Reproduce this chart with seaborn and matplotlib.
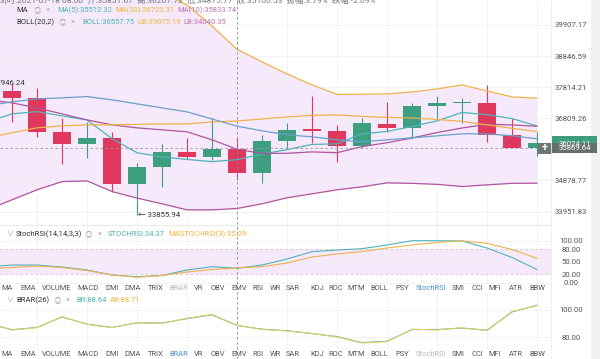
import numpy as np
import pandas as pd
import matplotlib
matplotlib.use("Agg")
import matplotlib.pyplot as plt
import seaborn as sns
from matplotlib.patches import Rectangle
from matplotlib.lines import Line2D
from matplotlib.ticker import NullLocator, NullFormatter

# ---------------- data ----------------
candle_open = [37691, 37475, 36388, 36011, 36181, 34766, 35283, 35742, 35608, 35844, 35100,
               36106, 36442, 36420, 35949, 36630, 36495, 37216, 37300, 37313, 36285, 35886]
candle_high = [37946.24, 37778, 36829, 36702, 36370, 35406, 35993, 36181, 36809, 36231, 36285,
               36671, 37530, 36599, 36809, 37346, 37294, 37530, 37455, 37885, 36809, 36388]
candle_low = [36702, 36231, 35375, 35577, 34545, 33855.94, 34694, 35528, 35507, 34894, 34796,
              35844, 36024, 35436, 35865, 36388, 36181, 36756, 36652, 36074, 35886, 35637]
candle_close = [37475, 36388, 36002, 36200, 34766, 35283, 35742, 35608, 35844, 35100, 36106,
                36442, 36420, 35949, 36652, 36495, 37216, 37313, 37306, 36285, 35886, 36024]

line_x = list(range(-1, 22))
ma5 = [36693, 36948, 37023, 36884, 36756, 36164, 35726, 35597, 35518, 35451, 35512.32, 35682,
       35822, 35984, 36003, 36314, 36392, 36546, 36725, 36995, 36922, 36800, 36562]
ma10 = [37401, 37304, 37142, 36948, 36756, 36599, 36504, 36442, 36379, 36128, 35833.74, 35704,
        35709, 35751, 35727, 35916, 36037, 36184, 36355, 36499, 36618, 36596, 36554]
ma30 = [36190, 36347, 36504, 36567, 36599, 36599, 36614, 36630, 36630, 36693, 36720.31, 36787,
        36851, 36900, 36916, 36868, 36835, 36819, 36771, 36709, 36599, 36489, 36388]
boll_mid = [37207, 37336, 37433, 37465, 37507, 37401, 37271, 37142, 37013, 36787, 36557.75, 36410,
            36285, 36222, 36128, 36065, 36128, 36190, 36253, 36316, 36316, 36253, 36159]
boll_ub = [42220, 42146, 42074, 41964, 41855, 41674, 41422, 41064, 40605, 39873, 39075.19, 38651,
           38253, 37888, 37578, 37585, 37594, 37659, 37756, 37888, 37691, 37497, 37455]
boll_lb = [34000, 34298, 34596, 34843, 34864, 34545, 34349, 34179, 34000, 34000, 34040.35, 34179,
           34358, 34477, 34596, 34685, 34805, 34790, 34760, 34694, 34745, 34790, 34796]

stoch_k = [37.4, 42.1, 42.1, 37.4, 30.2, 18.3, 14.3, 17.1, 30.2, 38.1, 34.37, 42.1,
           56.4, 73.8, 77.9, 81.0, 89.8, 100, 100, 99.5, 82.6, 60.0, 31.4]
stoch_d = [32.6, 36.2, 39.8, 36.2, 29.0, 18.3, 12.9, 17.1, 25.5, 31.4, 35.29, 38.1,
           46.9, 61.2, 68.3, 74.3, 82.6, 89.8, 95.7, 99.5, 93.8, 79.0, 58.1]

brar_ar = [90.5, 85.3, 87.0, 95.1, 89.5, 87.0, 90.7, 90.2, 93.9, 96.7, 88.71, 85.7,
           84.6, 82.8, 80.2, 75.8, 76.8, 85.9, 85.3, 87.0, 84.8, 98.9, 103.1]
brar_br = [90.3, 85.5, 87.2, 94.8, 89.6, 87.2, 90.5, 90.4, 93.6, 96.4, 88.64, 85.9,
           84.8, 82.6, 80.5, 76.1, 77.1, 85.6, 85.7, 86.7, 85.2, 98.5, 103.4]

price_ticks = [39907.17, 38846.59, 37814.21, 36809.26, 34878.77, 33951.83]
price_tick_labels = ["39907.17", "38846.59", "37814.21", "36809.26", "34878.77", "33951.83"]
stoch_ticks = [100, 80, 50, 20, 0]
stoch_tick_labels = ["100.00", "80.00", "50.00", "20.00", "0.00"]
brar_ticks = [100, 80]
brar_tick_labels = ["100.00", "80.00"]

crosshair_price = 35869.64
last_price_label = "36024.11"
high_label = "37946.24"
low_label = "← 33855.94"

tabs = ["MA", "EMA", "VOLUME", "MACD", "DMI", "DMA", "TRIX", "BRAR", "VR", "OBV", "EMV", "RSI",
        "WR", "SAR", "KDJ", "ROC", "MTM", "BOLL", "PSY", "StochRSI", "SMI", "CCI", "MFI", "ATR", "BBW"]

# ---------------- layout / style ----------------
tab_x = [7, 28, 57, 88, 112, 133, 156, 179, 199, 218, 239, 258, 275, 293, 317.5, 335.5,
         356, 379, 402, 431, 458, 477, 495, 516, 537]

RED = "#e0385c"
GREEN = "#3d9e80"
TEAL = "#4fb3b8"
BLUE = "#6a9fca"
YEL = "#eeb24c"
YEL2 = "#e6cf5c"
PUR = "#b0559e"
FILL = "#f6e9fb"
T_TEAL = "#4fb5b3"
T_YEL = "#f0b53c"
T_PUR = "#c175b5"

sns.set_theme(style="white")
plt.rcParams['font.family'] = ['Roboto', 'Noto Sans CJK SC', 'DejaVu Sans']

W, H = 600, 359
fig = plt.figure(figsize=(6, 3.59), dpi=100)
fig.patch.set_facecolor("white")


def fr(x0, y0, x1, y1):
    return [x0 / W, 1 - y1 / H, (x1 - x0) / W, (y1 - y0) / H]


def text_px(x, y, s, **kw):
    kw.setdefault("va", "center")
    kw.setdefault("fontsize", 5.5)
    fig.text(x / W, 1 - y / H, s, **kw)


def rect_px(x0, y0, x1, y1, **kw):
    fig.add_artist(Rectangle((x0 / W, 1 - y1 / H), (x1 - x0) / W, (y1 - y0) / H,
                             transform=fig.transFigure, **kw))


XL = (-0.48, 21.56)

ax = fig.add_axes(fr(0, 0, 551, 225))
ax_s = fig.add_axes(fr(0, 225, 551, 284))
ax_b = fig.add_axes(fr(0, 292, 551, 349))


def style_axes(a, ticks, labels):
    a.set_xlim(*XL)
    a.set_yticks(ticks)
    a.set_yticklabels(labels)
    a.yaxis.set_minor_locator(NullLocator())
    a.yaxis.set_minor_formatter(NullFormatter())
    a.yaxis.tick_right()
    a.tick_params(axis="y", length=0, pad=14.4, labelsize=5.6, labelcolor="#555555")
    for t in a.get_yticklabels():
        t.set_ha("center")
    a.set_xticks(list(range(1, 22, 2)))
    a.tick_params(axis="x", length=0, labelbottom=False)
    a.grid(True, color="#f1f1f1", lw=0.6)
    a.set_axisbelow(True)
    a.set_xlabel("")
    a.set_ylabel("")
    for s in a.spines.values():
        s.set_visible(False)
    a.set_facecolor("white")


# ---- main panel ----
ax.set_yscale("log")
ax.set_ylim(33557, 40781)
ax.fill_between(line_x, boll_lb, boll_ub, color=FILL, zorder=0.5, linewidth=0)

for i in range(len(candle_open)):
    o, h, l, c = candle_open[i], candle_high[i], candle_low[i], candle_close[i]
    col = GREEN if c >= o else RED
    ax.vlines(i, l, h, color=col, lw=0.8, zorder=2)
    ax.bar(i, max(abs(c - o), 45), bottom=min(o, c), width=0.72, color=col, linewidth=0, zorder=2)

main_df = pd.DataFrame({"x": line_x, "MA5": ma5, "MA10": ma10, "MA30": ma30,
                        "MB": boll_mid, "UB": boll_ub, "LB": boll_lb})
main_long = main_df.melt(id_vars="x", var_name="line", value_name="v")
sns.lineplot(data=main_long, x="x", y="v", hue="line",
             palette={"MA5": TEAL, "MA10": PUR, "MA30": YEL, "MB": BLUE, "UB": YEL, "LB": PUR},
             linewidth=0.9, legend=False, ax=ax, estimator=None, sort=False, zorder=3)
ax.axhline(crosshair_price, color="#9a9a9a", lw=0.6, ls=(0, (3, 3)), zorder=4)
style_axes(ax, price_ticks, price_tick_labels)
ax.set_ylim(33557, 40781)

ax.text(0.52, candle_high[0], high_label, ha="right", va="center", fontsize=5.6, color="#333333", zorder=6)
ax.text(5.04, min(candle_low), low_label, ha="left", va="center", fontsize=5.6, color="#333333", zorder=6)

# ---- StochRSI panel ----
ax_s.set_ylim(-3.1, 137.4)
ax_s.axhspan(20, 80, color=FILL, zorder=0.5, lw=0)
for lv in (20, 80):
    ax_s.axhline(lv, color="#d8c2da", lw=0.6, ls=(0, (3, 3)), zorder=1)
s_df = pd.DataFrame({"x": line_x, "K": stoch_k, "D": stoch_d}).melt(id_vars="x", var_name="line", value_name="v")
sns.lineplot(data=s_df, x="x", y="v", hue="line", palette={"K": TEAL, "D": YEL},
             linewidth=0.8, legend=False, ax=ax_s, estimator=None, sort=False, zorder=3)
style_axes(ax_s, stoch_ticks, stoch_tick_labels)
ax_s.set_ylim(-3.1, 137.4)

# ---- BRAR panel ----
b_df = pd.DataFrame({"x": line_x, "BR": brar_br, "AR": brar_ar}).melt(id_vars="x", var_name="line", value_name="v")
sns.lineplot(data=b_df, x="x", y="v", hue="line", palette={"BR": TEAL, "AR": YEL2},
             linewidth=0.75, legend=False, ax=ax_b, estimator=None, sort=False, zorder=3)
style_axes(ax_b, brar_ticks, brar_tick_labels)
ax_b.set_ylim(71.4, 113.1)

# ---- figure decorations ----
rect_px(591, 0, 600, 359, color="#f1f1f1", lw=0)
fig.add_artist(Line2D([551 / W] * 2, [0, 1], transform=fig.transFigure, color="#ececec", lw=0.6))
fig.add_artist(Line2D([0, 551 / W], [1 - 225 / H] * 2, transform=fig.transFigure, color="#e6e6e6", lw=0.6))
fig.add_artist(Line2D([237 / W] * 2, [0, 1], transform=fig.transFigure, color="#8a8a8a",
                      lw=0.6, ls=(0, (3, 3))))

# price labels on the right (last price label partly covered by the crosshair label)
rect_px(552, 136, 597, 150, color="#3f9c7e", lw=0)
text_px(574.5, 144.2, last_price_label, ha="center", color="white", fontsize=5.6)
rect_px(552, 143.3, 597, 152.5, color="#66716f", lw=0)
text_px(574.5, 148, f"{crosshair_price:.2f}", ha="center", color="white", fontsize=5.6)
rect_px(538, 143.3, 551.7, 153.5, color="#6d7674", lw=0)
text_px(544.8, 148.3, "+", ha="center", color="white", fontsize=8, fontweight="bold")

# top clipped info line
text_px(0, 3, "3|时:2021-07-18 08:00  开:35851.67  高:36207.73  低:34815.77  收:35100.53  振幅:3.79%  跌幅:-2.09%",
        va="baseline", color="#777777", fontsize=6)

# main headers
text_px(16, 10, "MA", color="#333333")
text_px(37, 10, "◎", color="#aaaaaa", ha="center")
text_px(48, 10, "×", color="#aaaaaa", ha="center")
text_px(57, 10, "MA(5):35512.32", color=T_TEAL)
text_px(115, 10, "MA(30):36720.31", color=T_YEL)
text_px(177, 10, "MA(10):35833.74", color=T_PUR)
text_px(16, 22, "BOLL(20,2)", color="#333333")
text_px(62, 22, "◎", color="#aaaaaa", ha="center")
text_px(73, 22, "×", color="#aaaaaa", ha="center")
text_px(82, 22, "BOLL:36557.75", color=T_TEAL)
text_px(137, 22, "UB:39075.19", color=T_YEL)
text_px(183, 22, "LB:34040.35", color=T_PUR)

# StochRSI header
text_px(10, 234, "∨", color="#999999", ha="center", fontsize=5)
text_px(16, 234, "StochRSI(14,14,3,3)", color="#333333")
text_px(88, 234, "◎", color="#aaaaaa", ha="center")
text_px(100, 234, "×", color="#aaaaaa", ha="center")
text_px(108, 234, "STOCHRSI:34.37", color=T_TEAL)
text_px(168, 234, "MASTOCHRSI(3):35.29", color=T_YEL)

# BRAR header
text_px(10, 300, "∨", color="#999999", ha="center", fontsize=5)
text_px(16, 300, "BRAR(26)", color="#333333")
text_px(57, 300, "◎", color="#aaaaaa", ha="center")
text_px(68, 300, "×", color="#aaaaaa", ha="center")
text_px(76, 300, "BR:88.64", color=T_TEAL)
text_px(110, 300, "AR:88.71", color=T_YEL)

# indicator tab rows
for row_y, active, dimmed in ((288, "StochRSI", "BRAR"), (354.5, "BRAR", "StochRSI")):
    for name, xc in zip(tabs, tab_x):
        col = "#555555"
        if name == active:
            col = "#4a8fd6"
        elif name == dimmed:
            col = "#b8b8b8"
        text_px(xc, row_y, name, ha="center", color=col, fontsize=5.4)

fig.savefig("out.png", dpi=100)
